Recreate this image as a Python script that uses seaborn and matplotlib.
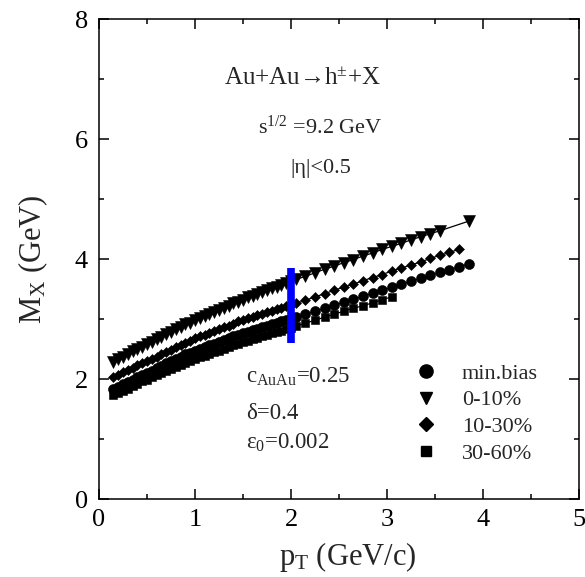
import matplotlib
matplotlib.use("Agg")
import matplotlib.pyplot as plt
from matplotlib.lines import Line2D
from matplotlib.ticker import MultipleLocator
import seaborn as sns
import pandas as pd

# ---------------- data ----------------
x_low = [0.15, 0.20, 0.25, 0.30, 0.35, 0.40, 0.45, 0.50, 0.55, 0.60, 0.65, 0.70,
         0.75, 0.80, 0.85, 0.90, 0.95, 1.00, 1.05, 1.10, 1.15, 1.20, 1.25, 1.30,
         1.35, 1.40, 1.45, 1.50, 1.55, 1.60, 1.65, 1.70, 1.75, 1.80, 1.85, 1.90,
         1.95, 2.00, 2.05]

# 0-10 %
x_c0 = x_low + [2.15, 2.25, 2.35, 2.45, 2.55, 2.65, 2.75, 2.85, 2.95,
                3.05, 3.15, 3.25, 3.35, 3.45, 3.55, 3.85]
y_c0 = [2.29, 2.33, 2.37, 2.42, 2.46, 2.50, 2.54, 2.58, 2.62, 2.66, 2.70, 2.75,
        2.79, 2.83, 2.87, 2.91, 2.94, 2.98, 3.01, 3.05, 3.08, 3.12, 3.15, 3.19,
        3.22, 3.26, 3.29, 3.32, 3.36, 3.39, 3.42, 3.45, 3.48, 3.51, 3.54, 3.57,
        3.60, 3.63, 3.66,
        3.71, 3.77, 3.83, 3.88, 3.94, 3.99, 4.05, 4.10, 4.16,
        4.21, 4.26, 4.32, 4.37, 4.42, 4.47, 4.63]

# 10-30 %
x_c1 = x_low + [2.15, 2.25, 2.35, 2.45, 2.55, 2.65, 2.75, 2.85, 2.95,
                3.05, 3.15, 3.25, 3.35, 3.45, 3.55, 3.65, 3.75]
y_c1 = [2.03, 2.07, 2.11, 2.15, 2.19, 2.23, 2.27, 2.30, 2.34, 2.37, 2.41, 2.45,
        2.49, 2.53, 2.57, 2.60, 2.64, 2.68, 2.71, 2.74, 2.77, 2.80, 2.83, 2.86,
        2.89, 2.92, 2.96, 2.98, 3.01, 3.04, 3.06, 3.09, 3.12, 3.14, 3.16, 3.19,
        3.21, 3.23, 3.26,
        3.31, 3.37, 3.42, 3.48, 3.53, 3.58, 3.64, 3.69, 3.74,
        3.80, 3.85, 3.90, 3.95, 4.01, 4.06, 4.11, 4.16]

# min. bias
x_mb = x_low + [2.15, 2.25, 2.35, 2.45, 2.55, 2.65, 2.75, 2.85, 2.95,
                3.05, 3.15, 3.25, 3.35, 3.45, 3.55, 3.65, 3.75, 3.85]
y_mb = [1.83, 1.87, 1.92, 1.95, 1.99, 2.03, 2.07, 2.10, 2.14, 2.18, 2.22, 2.26,
        2.30, 2.34, 2.37, 2.41, 2.44, 2.47, 2.50, 2.53, 2.56, 2.59, 2.62, 2.65,
        2.68, 2.71, 2.74, 2.76, 2.79, 2.81, 2.84, 2.87, 2.89, 2.92, 2.94, 2.97,
        2.99, 3.01, 3.03,
        3.08, 3.13, 3.18, 3.23, 3.28, 3.33, 3.38, 3.43, 3.48,
        3.53, 3.58, 3.63, 3.68, 3.73, 3.78, 3.82, 3.87, 3.92]

# 30-60 %
x_c2 = x_low + [2.15, 2.25, 2.35, 2.45, 2.55, 2.65, 2.75, 2.85, 2.95, 3.05]
y_c2 = [1.73, 1.77, 1.80, 1.84, 1.88, 1.92, 1.96, 1.99, 2.03, 2.06, 2.10, 2.13,
        2.17, 2.20, 2.24, 2.27, 2.30, 2.33, 2.36, 2.39, 2.42, 2.45, 2.47, 2.50,
        2.53, 2.56, 2.58, 2.61, 2.64, 2.66, 2.68, 2.71, 2.73, 2.76, 2.78, 2.80,
        2.83, 2.85, 2.88,
        2.93, 2.98, 3.03, 3.08, 3.13, 3.18, 3.22, 3.27, 3.32, 3.37]

labels = ["min.bias", "0-10%", "10-30%", "30-60%"]
bar_x = [2.0, 2.0]
bar_y = [2.6, 3.85]

# ---------------- style ----------------
sns.set_style("ticks")
plt.rcParams["font.family"] = ["Liberation Serif", "DejaVu Serif"]
plt.rcParams["mathtext.fontset"] = "custom"
plt.rcParams["mathtext.rm"] = "Liberation Serif"
plt.rcParams["mathtext.it"] = "Liberation Serif:italic"
plt.rcParams["mathtext.bf"] = "Liberation Serif:bold"
plt.rcParams["mathtext.default"] = "rm"

fig = plt.figure(figsize=(5.85, 5.77), dpi=100)
ax = fig.add_axes([99 / 585, 78 / 577, 480 / 585, 480 / 577])

series = [
    (x_mb, y_mb, "o", 7.2),
    (x_c0, y_c0, "v", 8.2),
    (x_c1, y_c1, "D", 5.6),
    (x_c2, y_c2, "s", 6.4),
]
for xs, ys, mk, ms in series:
    df = pd.DataFrame({"pT": xs, "MX": ys})
    sns.lineplot(data=df, x="pT", y="MX", ax=ax, color="black", linewidth=0.9,
                 marker=mk, markersize=ms, markeredgecolor="black",
                 markeredgewidth=0.4, sort=True, legend=False)

ax.plot(bar_x, bar_y, color="#0000ff", linewidth=5.5, solid_capstyle="butt", zorder=10)

ax.set_xlim(0, 5)
ax.set_ylim(0, 8)
ax.xaxis.set_major_locator(MultipleLocator(1))
ax.xaxis.set_minor_locator(MultipleLocator(0.5))
ax.yaxis.set_major_locator(MultipleLocator(2))
ax.yaxis.set_minor_locator(MultipleLocator(1))
ax.tick_params(which="both", direction="in", top=True, right=True, width=1.1,
               colors="black", labelsize=19)
ax.tick_params(which="major", length=7)
ax.tick_params(which="minor", length=3.8)
ax.tick_params(axis="x", pad=7)
ax.tick_params(axis="y", pad=8)
for s in ax.spines.values():
    s.set_linewidth(1.1)
    s.set_color("black")

ax.set_xlabel(r"p$_{\mathrm{T}}$ (GeV/c)", fontsize=22, labelpad=6)
ax.xaxis.set_label_coords(0.519, -0.085)
ax.set_ylabel(r"M$_{\mathrm{X}}$ (GeV)", fontsize=22, labelpad=18)

# annotations
ax.text(1.30, 6.90, r"Au+Au→h$^{\pm}$+X", fontsize=18, va="baseline", ha="left")
ax.text(1.66, 6.08, r"s$^{1/2}$ =9.2 GeV", fontsize=16, va="baseline", ha="left")
ax.text(1.99, 5.44, "|η|<0.5", fontsize=16, va="baseline", ha="left")
ax.text(1.53, 1.93, r"c$_{\mathrm{AuAu}}$=0.25", fontsize=16.5, va="baseline", ha="left")
ax.text(1.53, 1.33, "δ=0.4", fontsize=16.5, va="baseline", ha="left")
ax.text(1.53, 0.83, r"ε$_{0}$=0.002", fontsize=16.5, va="baseline", ha="left")

handles = [
    Line2D([], [], linestyle="none", marker="o", markersize=9.5, color="black"),
    Line2D([], [], linestyle="none", marker="v", markersize=9.0, color="black"),
    Line2D([], [], linestyle="none", marker="D", markersize=6.8, color="black"),
    Line2D([], [], linestyle="none", marker="s", markersize=7.2, color="black"),
]
ax.legend(handles, labels, loc="upper left", bbox_to_anchor=(0.659, 0.283),
          frameon=False, fontsize=16, handlelength=0.95, handletextpad=1.15,
          labelspacing=0.28, borderpad=0, borderaxespad=0)

fig.savefig("out.png", dpi=100)
